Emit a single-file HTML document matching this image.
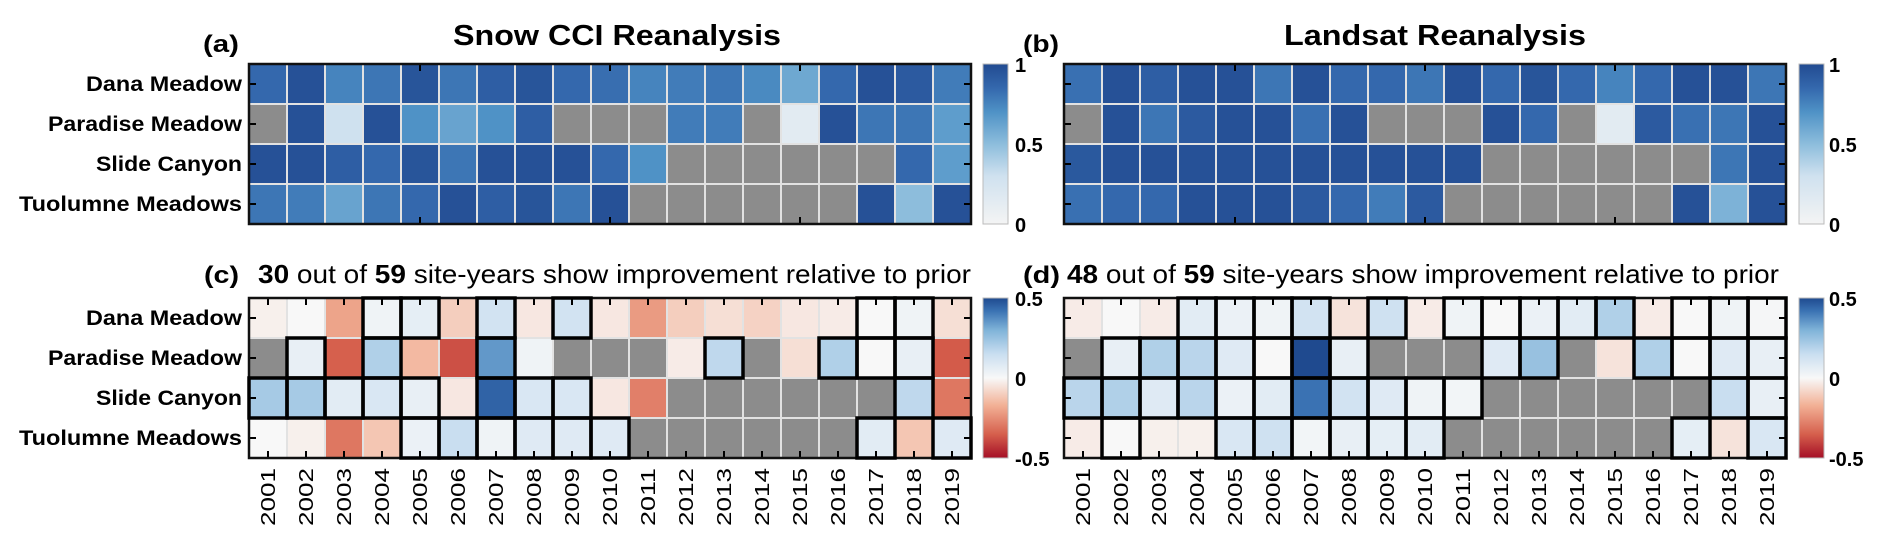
<!DOCTYPE html>
<html><head><meta charset="utf-8">
<style>
html,body{margin:0;padding:0;background:#fff;}
svg{display:block;}
text{font-family:"Liberation Sans Narrow","Liberation Sans",sans-serif;fill:#000;}
</style></head>
<body>
<svg id="fig" width="1892" height="547" viewBox="0 0 1892 547" xmlns="http://www.w3.org/2000/svg">
<defs>
<linearGradient id="gBlues" x1="0" y1="1" x2="0" y2="0">
<stop offset="0" stop-color="#f4f4f4"/><stop offset="0.3" stop-color="#cfe1ef"/><stop offset="0.5" stop-color="#8dbddc"/><stop offset="0.7" stop-color="#4f92c6"/><stop offset="0.85" stop-color="#3468ad"/><stop offset="1" stop-color="#224b91"/>
</linearGradient>
<linearGradient id="gRdBu" x1="0" y1="1" x2="0" y2="0">
<stop offset="0" stop-color="#a50f26"/><stop offset="0.15" stop-color="#d6604d"/><stop offset="0.33" stop-color="#f2b196"/><stop offset="0.5" stop-color="#f8f8f8"/><stop offset="0.65" stop-color="#c9def0"/><stop offset="0.8" stop-color="#7fb3d8"/><stop offset="0.92" stop-color="#3a72b3"/><stop offset="1" stop-color="#1f4a8f"/>
</linearGradient>
</defs>

<text x="203" y="52" font-size="24" font-weight="bold" textLength="36" lengthAdjust="spacingAndGlyphs">(a)</text>
<text x="453" y="45" font-size="29" font-weight="bold" textLength="328" lengthAdjust="spacingAndGlyphs">Snow CCI Reanalysis</text>
<text x="1023" y="52" font-size="24" font-weight="bold" textLength="36" lengthAdjust="spacingAndGlyphs">(b)</text>
<text x="1284" y="45" font-size="29" font-weight="bold" textLength="302" lengthAdjust="spacingAndGlyphs">Landsat Reanalysis</text>
<text x="204" y="283" font-size="24" font-weight="bold" textLength="35" lengthAdjust="spacingAndGlyphs">(c)</text>
<text x="258" y="283" font-size="26" textLength="713" lengthAdjust="spacingAndGlyphs"><tspan font-weight="bold">30</tspan> out of <tspan font-weight="bold">59</tspan> site-years show improvement relative to prior</text>
<text x="1023" y="283" font-size="24" font-weight="bold" textLength="37" lengthAdjust="spacingAndGlyphs">(d)</text>
<text x="1067" y="283" font-size="26" textLength="712" lengthAdjust="spacingAndGlyphs"><tspan font-weight="bold">48</tspan> out of <tspan font-weight="bold">59</tspan> site-years show improvement relative to prior</text>
</svg>
<script>
const sites = ["Dana Meadow","Paradise Meadow","Slide Canyon","Tuolumne Meadows"];
const siteLabelWidths = [156,194,146,223];
const years = ["2001","2002","2003","2004","2005","2006","2007","2008","2009","2010","2011","2012","2013","2014","2015","2016","2017","2018","2019"];
const N = null;
const aDana = [0.85,0.97,0.75,0.8,0.95,0.8,0.9,0.95,0.85,0.83,0.75,0.78,0.8,0.73,0.6,0.85,0.97,0.92,0.78];
const aParadise = [N,0.97,0.3,0.97,0.7,0.62,0.7,0.9,N,N,N,0.78,0.78,N,0.15,0.97,0.8,0.8,0.65];
const aSlide = [0.97,0.97,0.9,0.85,0.95,0.8,0.97,0.97,0.97,0.85,0.7,N,N,N,N,N,N,0.85,0.65];
const aTuolumne = [0.8,0.78,0.62,0.8,0.85,0.97,0.9,0.95,0.8,0.97,N,N,N,N,N,N,0.97,0.5,0.97];
const bDana = [0.82,0.97,0.9,0.97,0.97,0.8,0.97,0.85,0.85,0.8,0.97,0.85,0.95,0.85,0.75,0.85,0.97,0.97,0.8];
const bParadise = [N,0.97,0.8,0.92,0.97,0.97,0.82,0.97,N,N,N,0.97,0.85,N,0.15,0.92,0.82,0.8,0.97];
const bSlide = [0.93,0.97,0.97,0.97,0.97,0.97,0.97,0.97,0.97,0.97,0.97,N,N,N,N,N,N,0.8,0.97];
const bTuolumne = [0.82,0.85,0.85,0.97,0.97,0.97,0.92,0.85,0.78,0.92,N,N,N,N,N,N,0.97,0.55,0.97];
const cDana = [-0.02,0,-0.2,0.03,0.06,-0.1,0.12,-0.04,0.12,-0.04,-0.22,-0.1,-0.06,-0.09,-0.04,-0.03,0,0.03,-0.06];
const cParadise = [N,0.05,-0.35,0.2,-0.15,-0.38,0.35,0.03,N,N,N,-0.03,0.17,N,-0.06,0.2,0,0.05,-0.36];
const cSlide = [0.22,0.22,0.07,0.1,0.05,-0.04,0.45,0.1,0.1,-0.04,-0.28,N,N,N,N,N,N,0.17,-0.3];
const cTuolumne = [0,-0.02,-0.3,-0.12,0.04,0.15,0.03,0.08,0.08,0.08,N,N,N,N,N,N,0.07,-0.12,0.08];
const cImpDana = [0,0,0,1,1,0,1,0,1,0,0,0,0,0,0,0,1,1,0];
const cImpParadise = [0,1,0,1,0,0,1,0,0,0,0,0,1,0,0,1,1,1,0];
const cImpSlide = [1,1,1,1,1,0,1,1,1,0,0,0,0,0,0,0,0,1,0];
const cImpTuolumne = [0,0,0,0,1,1,1,1,1,1,0,0,0,0,0,0,1,0,1];
const dDana = [-0.03,0,-0.03,0.07,0.04,0.03,0.12,-0.05,0.13,-0.03,0.03,0,0.04,0.07,0.2,-0.03,0,0.03,0.01];
const dParadise = [N,0.05,0.2,0.18,0.08,0,0.5,0.05,N,N,N,0.08,0.25,N,-0.05,0.2,0,0.08,0.05];
const dSlide = [0.18,0.2,0.08,0.18,0.04,0.07,0.42,0.12,0.08,0.03,0.02,N,N,N,N,N,N,0.15,0.05];
const dTuolumne = [-0.03,0,-0.02,-0.02,0.1,0.13,0.02,0.05,0.06,0.07,N,N,N,N,N,N,0.06,-0.05,0.1];
const dImpDana = [0,0,0,1,1,1,1,0,1,0,1,1,1,1,1,0,1,1,1];
const dImpParadise = [0,1,1,1,1,1,1,1,0,0,0,1,1,0,0,1,1,1,1];
const dImpSlide = [1,1,1,1,1,1,1,1,1,1,1,0,0,0,0,0,0,1,1];
const dImpTuolumne = [0,1,0,0,1,1,1,1,1,1,0,0,0,0,0,0,1,0,1];
const seqTicks = ["1","0.5","0"];
const divTicks = ["0.5","0","-0.5"];

const NS = "http://www.w3.org/2000/svg";
const svg = document.getElementById("fig");
function mk(tag, attrs, parent){ const e=document.createElementNS(NS,tag); for(const k in attrs) e.setAttribute(k,attrs[k]); (parent||svg).appendChild(e); return e; }
function hex(h){return [parseInt(h.slice(1,3),16),parseInt(h.slice(3,5),16),parseInt(h.slice(5,7),16)];}
function interp(stops,t){ t=Math.max(0,Math.min(1,t)); for(let i=1;i<stops.length;i++){ if(t<=stops[i][0]){ const a=stops[i-1],b=stops[i]; const f=(t-a[0])/(b[0]-a[0]); const ca=hex(a[1]),cb=hex(b[1]); return "rgb("+ca.map((v,j)=>Math.round(v+(cb[j]-v)*f)).join(",")+")"; } } return stops[stops.length-1][1]; }
const bluesStops=[[0,"#f4f4f4"],[0.3,"#cfe1ef"],[0.5,"#8dbddc"],[0.7,"#4f92c6"],[0.85,"#3468ad"],[1,"#224b91"]];
const rdbuStops=[[0,"#a50f26"],[0.15,"#d6604d"],[0.33,"#f2b196"],[0.5,"#f8f8f8"],[0.65,"#c9def0"],[0.8,"#7fb3d8"],[0.92,"#3a72b3"],[1,"#1f4a8f"]];
const seqColor = v => interp(bluesStops, v);
const divColor = v => interp(rdbuStops, (v+0.5));

function drawPanel(id, x0, y0, rows, colorFn, imp, majorTicksOnly){
  const W=722, H=160, cw=W/years.length, ch=H/rows.length;
  const xScale = i => x0 + i*cw;
  const yScale = r => y0 + r*ch;
  const g = mk("g",{});
  
  
  rows.forEach((row,r)=>{
    row.forEach((v,i)=>{
      const rc = mk("rect",{x:xScale(i),y:yScale(r),width:cw,height:ch,fill:(v===null?"#8c8c8c":colorFn(v)),stroke:"#e2e2e2","stroke-width":2},g);
      
      
    });
  });
  const tg = mk("g",{stroke:"#000","stroke-width":2});
  for(let i=0;i<years.length;i++){
    if(majorTicksOnly && !(i===4||i===9||i===14)) continue;
    const cx=xScale(i)+cw/2;
    mk("line",{x1:cx,y1:y0,x2:cx,y2:y0+7},tg);
    mk("line",{x1:cx,y1:y0+H,x2:cx,y2:y0+H-7},tg);
  }
  for(let r=0;r<rows.length;r++){
    const cy=yScale(r)+ch/2;
    mk("line",{x1:x0,y1:cy,x2:x0+7,y2:cy},tg);
    mk("line",{x1:x0+W,y1:cy,x2:x0+W-7,y2:cy},tg);
  }
  mk("rect",{x:x0,y:y0,width:W,height:H,fill:"none",stroke:"#111","stroke-width":2.5});
  if(imp){
    const og = mk("g",{});
    imp.forEach((row,r)=>row.forEach((f,i)=>{
      if(!f) return;
      const o = mk("rect",{x:xScale(i),y:yScale(r),width:cw,height:ch,fill:"none",stroke:"#000","stroke-width":3.5},og);
      
      
    }));
  }
  return {xScale, cw, ch, yScale};
}

function rowLabels(y0, ch){
  sites.forEach((s,r)=>{
    const t = mk("text",{x:242,y:y0+r*ch+ch/2+7,"font-size":21,"font-weight":"bold","text-anchor":"end",textLength:siteLabelWidths[r],lengthAdjust:"spacingAndGlyphs"});
    t.textContent = s;
    
    
  });
}
function yearLabels(xScale, cw, y){
  years.forEach((yr,i)=>{
    const cx = xScale(i)+cw/2+7;
    const t = mk("text",{x:0,y:0,"font-size":20,"text-anchor":"end",transform:"translate("+cx+","+y+") rotate(-90)",textLength:58,lengthAdjust:"spacingAndGlyphs",style:"font-family:'Liberation Sans',sans-serif"});
    t.textContent = yr;
    
    
  });
}
function colorbar(x, y0, grad, labels, lx, name){
  const cb = mk("rect",{x:x,y:y0,width:25,height:160,fill:"url(#"+grad+")",stroke:"#bbb","stroke-width":1});
  
  
  labels.forEach((l,k)=>{
    const yy = y0 + k*80;
    const t = mk("text",{x:lx,y:yy+8,"font-size":20,"font-weight":"bold",style:"font-family:'Liberation Sans',sans-serif"});
    t.textContent = l;
    
    
  });
}

drawPanel("panel-a",249,64,[aDana,aParadise,aSlide,aTuolumne],seqColor,null,true);
drawPanel("panel-b",1064,64,[bDana,bParadise,bSlide,bTuolumne],seqColor,null,true);
const pc = drawPanel("panel-c",249,298,[cDana,cParadise,cSlide,cTuolumne],divColor,[cImpDana,cImpParadise,cImpSlide,cImpTuolumne],false);
const pd = drawPanel("panel-d",1064,298,[dDana,dParadise,dSlide,dTuolumne],divColor,[dImpDana,dImpParadise,dImpSlide,dImpTuolumne],false);
rowLabels(64,40);
rowLabels(298,40);
yearLabels(pc.xScale,pc.cw,468);
yearLabels(pd.xScale,pd.cw,468);
colorbar(983,64,"gBlues",seqTicks,1015,"colorbar-a");
colorbar(1799,64,"gBlues",seqTicks,1829,"colorbar-b");
colorbar(983,298,"gRdBu",divTicks,1015,"colorbar-c");
colorbar(1799,298,"gRdBu",divTicks,1829,"colorbar-d");
</script>
</body></html>
